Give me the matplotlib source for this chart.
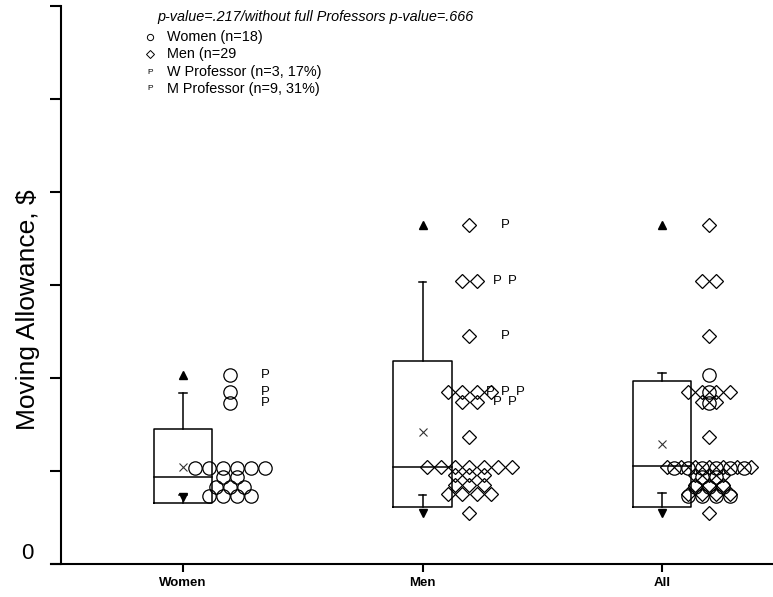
import numpy as np
import matplotlib
matplotlib.use("Agg")
import matplotlib.pyplot as plt
from collections import Counter

plt.rcParams['font.family'] = ['Liberation Sans', 'DejaVu Sans']

# Groups on the x axis
groups = ['Women', 'Men', 'All']

# Individual moving allowances (axis units, one tick = 1)
women_values = [2.03, 1.85, 1.73,
                1.03, 1.03, 1.03, 1.03, 1.03, 1.03,
                0.935, 0.935,
                0.83, 0.83, 0.83,
                0.73, 0.73, 0.73, 0.73]
men_values = [3.65, 3.04, 3.04, 2.45,
              1.85, 1.85, 1.85, 1.85,
              1.74, 1.74, 1.37,
              1.04, 1.04, 1.04, 1.04, 1.04, 1.04, 1.04,
              0.96, 0.96, 0.96,
              0.85, 0.85, 0.85,
              0.75, 0.75, 0.75, 0.75, 0.55]

# Full professors
women_prof = [2.03, 1.85, 1.73]
men_prof = [3.65, 3.04, 3.04, 2.45, 1.85, 1.85, 1.85, 1.74, 1.74]

# Box plot summary per group (Women, Men, All)
q1 = [0.656, 0.61, 0.61]
median = [0.935, 1.04, 1.05]
q3 = [1.45, 2.18, 1.97]
whisk_lo = [0.74, 0.74, 0.76]
whisk_hi = [1.84, 3.03, 2.05]
means = [1.04, 1.42, 1.29]
v_min = [0.72, 0.55, 0.55]
v_max = [2.03, 3.65, 3.65]

legend_labels = ['Women (n=18)', 'Men (n=29', 'W Professor (n=3, 17%)', 'M Professor (n=9, 31%)']
pvalue_text = 'p-value=.217/without full Professors p-value=.666'


def swarm_x(values, center, step):
    totals = Counter(values)
    seen = {}
    xs = []
    for v in values:
        i = seen.get(v, 0)
        seen[v] = i + 1
        xs.append(center + (i - (totals[v] - 1) / 2) * step)
    return np.array(xs)


fig = plt.figure(figsize=(7.73, 5.97), dpi=100)
ax = fig.add_axes([61 / 773, 33 / 597, 1 - 61 / 773, 558 / 597])

pos = np.arange(len(groups))
half = 0.122
cap = 0.016
lw = 1.1

for i, p in enumerate(pos):
    ax.plot([p - half, p + half, p + half, p - half, p - half],
            [q1[i], q1[i], q3[i], q3[i], q1[i]], color='black', lw=lw)
    ax.plot([p - half, p + half], [median[i], median[i]], color='black', lw=lw)
    ax.plot([p, p], [q3[i], whisk_hi[i]], color='black', lw=lw)
    ax.plot([p - cap, p + cap], [whisk_hi[i], whisk_hi[i]], color='black', lw=lw)
    ax.plot([p, p], [q1[i], whisk_lo[i]], color='black', lw=lw)
    ax.plot([p - cap, p + cap], [whisk_lo[i], whisk_lo[i]], color='black', lw=lw)

ax.plot(pos, v_max, ls='none', marker='^', color='black', ms=5.5)
ax.plot(pos, v_min, ls='none', marker='v', color='black', ms=5.5)
ax.plot(pos, means, ls='none', marker='x', color='#333333', ms=5.5, mew=0.8)

off = 0.196
step = 0.059
circ = dict(ls='none', marker='o', mfc='none', mec='black', ms=9.6, mew=0.9)
diam = dict(ls='none', marker='D', mfc='none', mec='black', ms=7.2, mew=0.9)

ax.plot(swarm_x(women_values, pos[0] + off, step), women_values, **circ)
ax.plot(swarm_x(men_values, pos[1] + off, step), men_values, **diam)
ax.plot(swarm_x(men_values, pos[2] + off, step), men_values, **diam)
ax.plot(swarm_x(women_values, pos[2] + off, step), women_values, **circ)

p_off = 0.344
p_step = 0.0626
for vals, p in [(women_prof, pos[0]), (men_prof, pos[1])]:
    for x, y in zip(swarm_x(vals, p + p_off, p_step), vals):
        ax.text(x, y, 'P', ha='center', va='center', fontsize=9.5)

ax.set_xlim(-0.509, 2.463)
ax.set_ylim(0, 6)
ax.set_xticks(pos)
ax.set_xticklabels(groups, fontsize=9.5, fontweight='bold')
ax.set_yticks(np.arange(0, 7))
ax.set_yticklabels(['0', '', '', '', '', '', ''], fontsize=16)
for lab in ax.get_yticklabels():
    lab.set_va('bottom')
ax.tick_params(axis='y', length=8, width=1.5, pad=12)
ax.tick_params(axis='x', length=6, width=1.5, pad=3)
for s in ['top', 'right']:
    ax.spines[s].set_visible(False)
for s in ['left', 'bottom']:
    ax.spines[s].set_linewidth(1.5)
ax.spines['bottom'].set_bounds(-0.55, 2.463)

ax.set_ylabel('Moving Allowance, $', fontsize=19)
ax.yaxis.set_label_coords(-0.029, 0.455)

# legend block
fig.text(157 / 773, 1 - 17 / 597, pvalue_text, fontsize=10.4, fontstyle='italic', va='center', ha='left')
rows_y = [37, 54, 72, 89]
fig.lines.append(plt.Line2D([150 / 773], [1 - rows_y[0] / 597], ls='none', marker='o', mfc='none',
                            mec='black', ms=4.5, mew=0.7, transform=fig.transFigure))
fig.lines.append(plt.Line2D([150 / 773], [1 - rows_y[1] / 597], ls='none', marker='D', mfc='none',
                            mec='black', ms=3.6, mew=0.7, transform=fig.transFigure))
for y in rows_y[2:]:
    fig.text(150 / 773, 1 - y / 597, 'P', fontsize=6, ha='center', va='center')
for y, lab in zip(rows_y, legend_labels):
    fig.text(167 / 773, 1 - y / 597, lab, fontsize=10.4, ha='left', va='center')

fig.savefig('out.png', dpi=100)
